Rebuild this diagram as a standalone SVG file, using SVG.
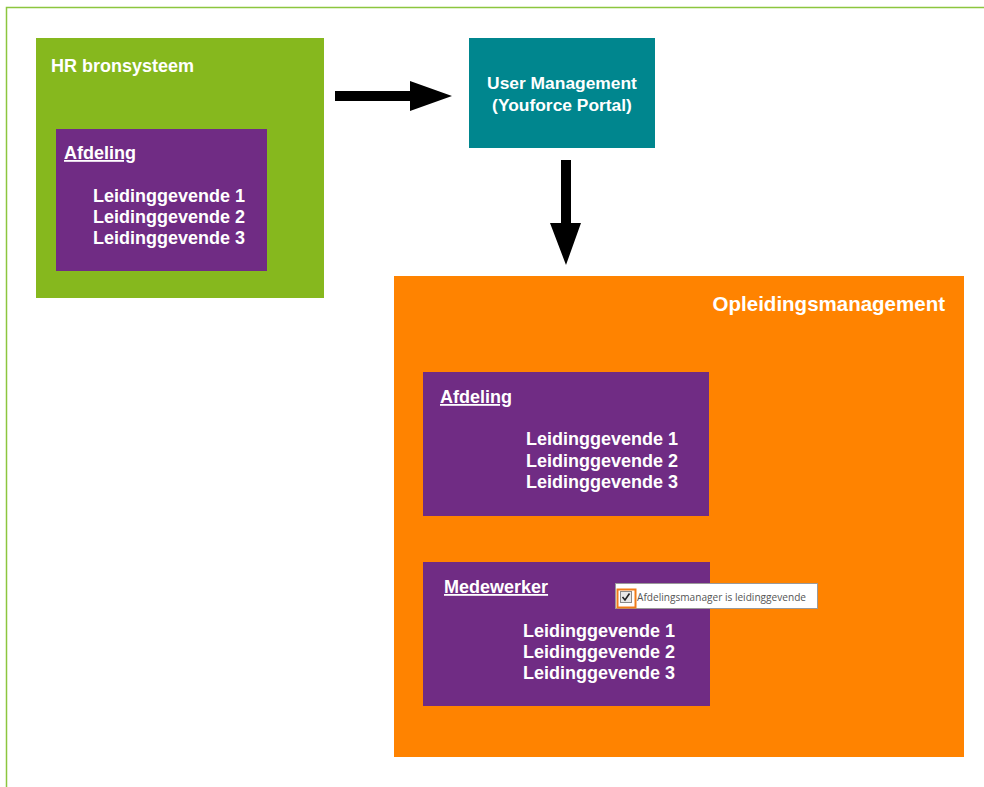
<svg xmlns="http://www.w3.org/2000/svg" width="984" height="787" viewBox="0 0 984 787">
<style>
.t{font-family:"Liberation Sans",Arial,sans-serif;font-weight:bold;fill:#ffffff;font-size:18px}
.u{text-decoration:underline}
.purple{fill:#702C84}
.arrow{fill:#000000}
</style>
<rect width="984" height="787" fill="#ffffff"/>
<path d="M6.5,787 V7.5 H984" fill="none" stroke="#8CC63F" stroke-width="1.5"/>
<g id="hr">
<rect x="36" y="38" width="288" height="260" fill="#86B81E"/>
<text class="t" x="51" y="72">HR bronsysteem</text>
<g id="hr-afdeling">
<rect class="purple" x="56" y="129" width="211" height="142"/>
<text class="t u" x="64" y="159">Afdeling</text>
<text class="t" x="93" y="202">Leidinggevende 1</text>
<text class="t" x="93" y="223">Leidinggevende 2</text>
<text class="t" x="93" y="244">Leidinggevende 3</text>
</g>
</g>
<g id="um">
<rect x="469" y="38" width="186" height="110" fill="#00868E"/>
<text class="t" x="562" y="89" text-anchor="middle" style="font-size:17.4px">User Management</text>
<text class="t" x="562" y="111" text-anchor="middle" style="font-size:17.4px">(Youforce Portal)</text>
</g>
<g id="om">
<rect x="394" y="276" width="570" height="481" fill="#FF8300"/>
<text class="t" x="945" y="311" text-anchor="end" style="font-size:20.5px">Opleidingsmanagement</text>
<g id="om-afdeling">
<rect class="purple" x="423" y="372" width="286" height="144"/>
<text class="t u" x="440" y="403">Afdeling</text>
<text class="t" x="526" y="445">Leidinggevende 1</text>
<text class="t" x="526" y="467">Leidinggevende 2</text>
<text class="t" x="526" y="488">Leidinggevende 3</text>
</g>
<g id="om-medewerker">
<rect class="purple" x="423" y="562" width="287" height="144"/>
<text class="t u" x="444" y="593">Medewerker</text>
<text class="t" x="523" y="637">Leidinggevende 1</text>
<text class="t" x="523" y="658">Leidinggevende 2</text>
<text class="t" x="523" y="679">Leidinggevende 3</text>
</g>
<g id="checkbox">
<rect x="615.5" y="583.5" width="202" height="25" fill="#ffffff" stroke="#9a9a9a" stroke-width="1"/>
<rect x="617.5" y="589.5" width="18" height="18" fill="none" stroke="#F07C1A" stroke-width="2"/>
<rect x="620.5" y="591.5" width="11" height="11" fill="#e8e8e8" stroke="#8a8a8a" stroke-width="1"/>
<path d="M622.5,597 L625,600 L629.5,593.5" fill="none" stroke="#222" stroke-width="1.6"/>
<text x="637" y="600.5" style="font-family:'Open Sans','Noto Sans',sans-serif;font-size:10.4px;fill:#555555" textLength="169" lengthAdjust="spacingAndGlyphs">Afdelingsmanager is leidinggevende</text>
</g>
</g>
<g id="connectors">
<polygon class="arrow" points="335,91 410,91 410,81 452,96 410,111 410,101 335,101"/>
<polygon class="arrow" points="561,160 571,160 571,223 581,223 566,265 550,223 561,223"/>
</g>
</svg>
